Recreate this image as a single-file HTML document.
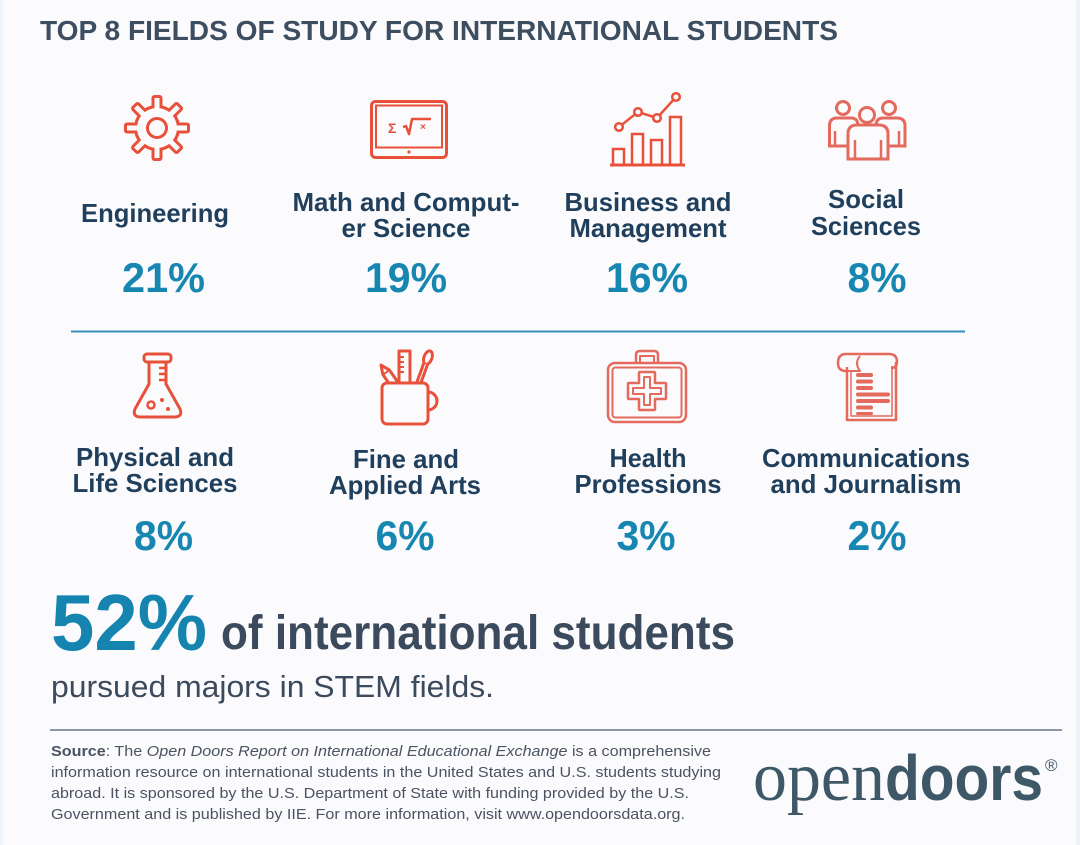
<!DOCTYPE html>
<html>
<head>
<meta charset="utf-8">
<style>
  html,body{margin:0;padding:0;background:#fbfbfd;}
  svg{display:block;}
  .t{font-family:"Liberation Sans",Arial,sans-serif;}
  .lab{font-family:"Liberation Sans",Arial,sans-serif;font-weight:bold;font-size:26px;fill:#1f3f5c;text-anchor:middle;}
  .pct{font-family:"Liberation Sans",Arial,sans-serif;font-weight:bold;font-size:42px;fill:#1787b2;text-anchor:middle;}
  .src{font-family:"Liberation Sans",Arial,sans-serif;font-size:15px;fill:#4b5361;}
</style>
</head>
<body>
<svg width="1080" height="845" viewBox="0 0 1080 845" xmlns="http://www.w3.org/2000/svg">
  <rect x="0" y="0" width="1080" height="845" fill="#fbfbfd"/>
  <rect x="0" y="0" width="3" height="845" fill="#eef2fa"/>
  <rect x="1076" y="0" width="4" height="845" fill="#eef1f8"/>

  <!-- Title -->
  <text class="t" x="40" y="40" font-size="28" font-weight="bold" fill="#3d4e61" textLength="798" lengthAdjust="spacingAndGlyphs">TOP 8 FIELDS OF STUDY FOR INTERNATIONAL STUDENTS</text>

  <!-- Gear icon -->
  <g transform="translate(157,128)">
    <g fill="#e8503a" stroke="#e8503a" stroke-width="6" stroke-linejoin="round">
      <circle r="20"/>
      <rect x="-2.5" y="-30" width="5" height="14" transform="rotate(0)"/>
      <rect x="-2.5" y="-30" width="5" height="14" transform="rotate(45)"/>
      <rect x="-2.5" y="-30" width="5" height="14" transform="rotate(90)"/>
      <rect x="-2.5" y="-30" width="5" height="14" transform="rotate(135)"/>
      <rect x="-2.5" y="-30" width="5" height="14" transform="rotate(180)"/>
      <rect x="-2.5" y="-30" width="5" height="14" transform="rotate(225)"/>
      <rect x="-2.5" y="-30" width="5" height="14" transform="rotate(270)"/>
      <rect x="-2.5" y="-30" width="5" height="14" transform="rotate(315)"/>
    </g>
    <g fill="#fbfbfd" stroke="none">
      <circle r="20"/>
      <rect x="-2.5" y="-30" width="5" height="14" transform="rotate(0)"/>
      <rect x="-2.5" y="-30" width="5" height="14" transform="rotate(45)"/>
      <rect x="-2.5" y="-30" width="5" height="14" transform="rotate(90)"/>
      <rect x="-2.5" y="-30" width="5" height="14" transform="rotate(135)"/>
      <rect x="-2.5" y="-30" width="5" height="14" transform="rotate(180)"/>
      <rect x="-2.5" y="-30" width="5" height="14" transform="rotate(225)"/>
      <rect x="-2.5" y="-30" width="5" height="14" transform="rotate(270)"/>
      <rect x="-2.5" y="-30" width="5" height="14" transform="rotate(315)"/>
    </g>
    <circle r="9.5" fill="none" stroke="#e8503a" stroke-width="3"/>
  </g>

  <!-- Laptop / tablet icon -->
  <g fill="none" stroke="#e8503a">
    <rect x="371.5" y="101.5" width="75" height="56" rx="4" stroke-width="3"/>
    <rect x="376" y="105.5" width="66" height="42" stroke-width="2"/>
    <path d="M403 127 L406 126 L409 134 L412 119 L431 119" stroke-width="2.5" stroke-linejoin="round"/>
  </g>
  <circle cx="409" cy="152" r="1.6" fill="#e8503a"/>
  <text class="t" x="388" y="133" font-size="14" font-weight="bold" fill="#e8503a">Σ</text>
  <text class="t" x="420" y="130" font-size="10" font-weight="bold" fill="#e8503a">×</text>

  <!-- Business chart icon -->
  <g fill="none" stroke="#e8503a" stroke-width="2.5">
    <polyline points="619,127 638,112 657,118 676,97"/>
    <rect x="613" y="149" width="11" height="16"/>
    <rect x="632" y="134" width="11" height="31"/>
    <rect x="651" y="140" width="11" height="25"/>
    <rect x="670" y="117" width="11" height="48"/>
    <line x1="610" y1="165" x2="685" y2="165" stroke-width="3"/>
  </g>
  <g fill="#fbfbfd" stroke="#e8503a" stroke-width="2.5">
    <circle cx="619" cy="127" r="3.8"/>
    <circle cx="638" cy="112" r="3.8"/>
    <circle cx="657" cy="118" r="3.8"/>
    <circle cx="676" cy="97" r="3.8"/>
  </g>

  <!-- Social sciences people icon -->
  <g stroke="#e36a5c" stroke-width="3" fill="#fbfbfd">
    <circle cx="843" cy="108" r="6.5"/>
    <circle cx="889" cy="108" r="6.5"/>
    <path d="M829.5 146 L829.5 126 Q829.5 118 837 118 L851 118 Q858 118 858 126 L858 146 Z"/>
    <path d="M876 146 L876 126 Q876 118 883 118 L897 118 Q905 118 905 126 L905 146 Z"/>
    <path d="M848 159 L848 134 Q848 125 857 125 L879 125 Q888 125 888 134 L888 159 Z"/>
    <circle cx="867" cy="115" r="7.5"/>
  </g>
  <g stroke="#e36a5c" stroke-width="2.5" fill="none">
    <line x1="835" y1="131" x2="835" y2="145"/>
    <line x1="899" y1="131" x2="899" y2="145"/>
    <line x1="855" y1="140" x2="855" y2="159"/>
    <line x1="881" y1="140" x2="881" y2="159"/>
  </g>

  <!-- Row 1 labels -->
  <text class="lab" x="155" y="222" textLength="148" lengthAdjust="spacingAndGlyphs">Engineering</text>
  <text class="lab" x="406" y="211" textLength="227" lengthAdjust="spacingAndGlyphs">Math and Comput-</text>
  <text class="lab" x="406" y="237" textLength="129" lengthAdjust="spacingAndGlyphs">er Science</text>
  <text class="lab" x="648" y="211" textLength="167" lengthAdjust="spacingAndGlyphs">Business and</text>
  <text class="lab" x="648" y="237" textLength="157" lengthAdjust="spacingAndGlyphs">Management</text>
  <text class="lab" x="866" y="208" textLength="76" lengthAdjust="spacingAndGlyphs">Social</text>
  <text class="lab" x="866" y="235" textLength="110" lengthAdjust="spacingAndGlyphs">Sciences</text>

  <text class="pct" x="163.5" y="292" textLength="83" lengthAdjust="spacingAndGlyphs">21%</text>
  <text class="pct" x="406" y="292" textLength="82" lengthAdjust="spacingAndGlyphs">19%</text>
  <text class="pct" x="647" y="292" textLength="82" lengthAdjust="spacingAndGlyphs">16%</text>
  <text class="pct" x="877" y="292" textLength="59" lengthAdjust="spacingAndGlyphs">8%</text>

  <!-- Blue divider -->
  <line x1="71" y1="331.5" x2="965" y2="331.5" stroke="#358dbd" stroke-width="2"/>

  <!-- Flask icon -->
  <g fill="none" stroke="#e8503a" stroke-width="3" stroke-linejoin="round">
    <rect x="144" y="354" width="27" height="8" rx="3"/>
    <path d="M149 362 L149 384 L135 409 Q132 417 141 417 L174 417 Q183 417 180 409 L166 384 L166 362"/>
    <line x1="159" y1="368" x2="166" y2="368" stroke-width="2.5"/>
    <line x1="159" y1="374" x2="166" y2="374" stroke-width="2.5"/>
    <line x1="159" y1="380" x2="166" y2="380" stroke-width="2.5"/>
    <circle cx="151" cy="405" r="3.5" stroke-width="2.5"/>
  </g>
  <circle cx="162" cy="400" r="2" fill="#e8503a"/>
  <circle cx="168" cy="409" r="2" fill="#e8503a"/>

  <!-- Mug with tools icon -->
  <g fill="#fbfbfd" stroke="#e8503a" stroke-width="3" stroke-linejoin="round">
    <g transform="translate(381,365) rotate(-35)">
      <path d="M0 0 L4 9 L4 28 L-4 28 L-4 9 Z"/>
      <line x1="-4" y1="9" x2="4" y2="9" stroke-width="2"/>
    </g>
    <rect x="399" y="351" width="11" height="36"/>
    <g stroke-width="2">
      <line x1="399" y1="357" x2="404" y2="357"/>
      <line x1="399" y1="362" x2="404" y2="362"/>
      <line x1="399" y1="367" x2="404" y2="367"/>
      <line x1="399" y1="372" x2="404" y2="372"/>
    </g>
    <g transform="translate(430,352) rotate(20)">
      <ellipse cx="0" cy="6" rx="4" ry="7"/>
      <path d="M-2 13 L-2 36 L2 36 L2 13" />
    </g>
    <path d="M428 392 A9 9 0 0 1 428 410" fill="none"/>
    <rect x="382" y="383" width="46" height="41" rx="5"/>
  </g>

  <!-- Health kit icon -->
  <g fill="none" stroke="#e36a5c" stroke-linejoin="round">
    <path d="M636 363 L636 355 Q636 351 640 351 L654 351 Q658 351 658 355 L658 363" stroke-width="2.5"/>
    <path d="M640 363 L640 356 L654 356 L654 363" stroke-width="2"/>
    <rect x="608" y="363" width="78" height="59" rx="7" stroke-width="2.5"/>
    <rect x="612.5" y="367.5" width="69" height="50" rx="3" stroke-width="2"/>
    <path d="M640 372 L654 372 Q655 372 655 373 L655 383 L665 383 Q666 383 666 384 L666 398 Q666 399 665 399 L655 399 L655 409 Q655 410 654 410 L640 410 Q639 410 639 409 L639 399 L629 399 Q628 399 628 398 L628 384 Q628 383 629 383 L639 383 L639 373 Q639 372 640 372 Z" stroke-width="2.5"/>
    <path d="M644 377 L650 377 L650 388 L661 388 L661 394 L650 394 L650 405 L644 405 L644 394 L633 394 L633 388 L644 388 Z" stroke-width="2"/>
  </g>

  <!-- Scroll icon -->
  <g fill="none" stroke="#e36a5c" stroke-linejoin="round">
    <path d="M847 367 L847 420 L896 420 L896 362" stroke-width="2.5"/>
    <path d="M851 371 L851 416 L892 416 L892 366" stroke-width="1.5"/>
    <path d="M846 371 Q838 371 838 363 Q838 354 846 354 L889 354 Q897 354 897 362 Q897 368 891 368" stroke-width="2.5"/>
    <path d="M846 371 L860 371 Q854 363 860 356" stroke-width="2"/>
  </g>
  <g fill="#e36a5c">
    <rect x="856" y="373" width="17" height="4" rx="2"/>
    <rect x="856" y="379.5" width="17" height="4" rx="2"/>
    <rect x="856" y="386" width="17" height="4" rx="2"/>
    <rect x="856" y="392.5" width="34" height="4" rx="2"/>
    <rect x="856" y="399" width="34" height="4" rx="2"/>
    <rect x="856" y="405.5" width="17" height="4" rx="2"/>
    <rect x="856" y="412" width="17" height="3" rx="1.5"/>
  </g>

  <!-- Row 2 labels -->
  <text class="lab" x="155" y="466" textLength="158" lengthAdjust="spacingAndGlyphs">Physical and</text>
  <text class="lab" x="155" y="492" textLength="165" lengthAdjust="spacingAndGlyphs">Life Sciences</text>
  <text class="lab" x="406" y="468" textLength="106" lengthAdjust="spacingAndGlyphs">Fine and</text>
  <text class="lab" x="405" y="494" textLength="152" lengthAdjust="spacingAndGlyphs">Applied Arts</text>
  <text class="lab" x="648" y="467" textLength="77" lengthAdjust="spacingAndGlyphs">Health</text>
  <text class="lab" x="648" y="493" textLength="147" lengthAdjust="spacingAndGlyphs">Professions</text>
  <text class="lab" x="866" y="467" textLength="208" lengthAdjust="spacingAndGlyphs">Communications</text>
  <text class="lab" x="866" y="493" textLength="191" lengthAdjust="spacingAndGlyphs">and Journalism</text>

  <text class="pct" x="163.5" y="550" textLength="59" lengthAdjust="spacingAndGlyphs">8%</text>
  <text class="pct" x="405" y="550" textLength="59" lengthAdjust="spacingAndGlyphs">6%</text>
  <text class="pct" x="646" y="550" textLength="59" lengthAdjust="spacingAndGlyphs">3%</text>
  <text class="pct" x="877" y="550" textLength="59" lengthAdjust="spacingAndGlyphs">2%</text>

  <!-- 52% statement -->
  <text class="t" x="51" y="650" font-size="80" font-weight="bold" fill="#1585b0" textLength="156" lengthAdjust="spacingAndGlyphs">52%</text>
  <text class="t" x="221" y="649" font-size="48" font-weight="bold" fill="#3b4a5c" textLength="514" lengthAdjust="spacingAndGlyphs">of international students</text>
  <text class="t" x="51" y="697" font-size="31" fill="#3b4a5c" textLength="443" lengthAdjust="spacingAndGlyphs">pursued majors in STEM fields.</text>

  <!-- Gray rule -->
  <line x1="50" y1="730" x2="1062" y2="730" stroke="#8c96a6" stroke-width="2"/>

  <!-- Source text -->
  <text class="src" x="51" y="756" textLength="660" lengthAdjust="spacingAndGlyphs"><tspan font-weight="bold">Source</tspan>: The <tspan font-style="italic">Open Doors Report on International Educational Exchange</tspan> is a comprehensive</text>
  <text class="src" x="51" y="777" textLength="670" lengthAdjust="spacingAndGlyphs">information resource on international students in the United States and U.S. students studying</text>
  <text class="src" x="51" y="798" textLength="638" lengthAdjust="spacingAndGlyphs">abroad. It is sponsored by the U.S. Department of State with funding provided by the U.S.</text>
  <text class="src" x="51" y="819" textLength="634" lengthAdjust="spacingAndGlyphs">Government and is published by IIE. For more information, visit www.opendoorsdata.org.</text>

  <!-- Logo -->
  <text x="753" y="800" font-family="'Liberation Serif',serif" font-size="70" fill="#3e5868" textLength="132" lengthAdjust="spacingAndGlyphs">open</text>
  <text x="885" y="800" font-family="'Liberation Sans',Arial,sans-serif" font-weight="bold" font-size="64" fill="#3e5868" textLength="158" lengthAdjust="spacingAndGlyphs">doors</text>
  <text x="1045" y="771" font-family="'Liberation Sans',Arial,sans-serif" font-size="17" fill="#3e5868">®</text>
</svg>
</body>
</html>
